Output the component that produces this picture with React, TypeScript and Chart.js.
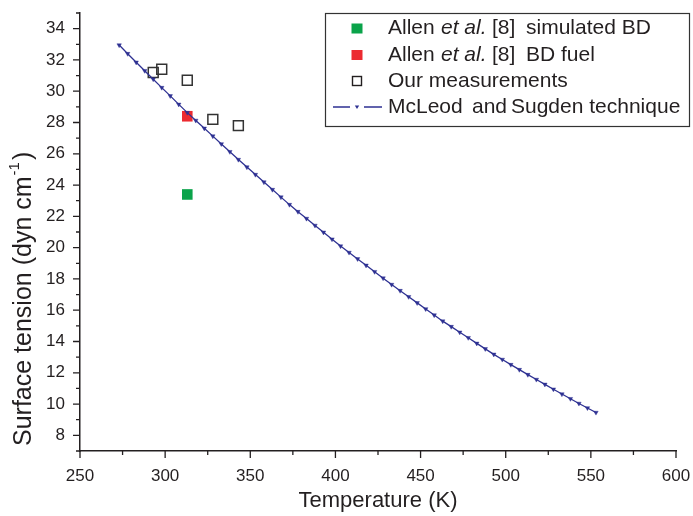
import { useEffect, useRef } from 'react';
import { Chart, registerables } from 'chart.js';

Chart.register(...registerables);

// Temperatures (K) and surface tension (dyn/cm) predicted by the McLeod–Sugden technique
const modelTemps = [
  273, 278, 283, 288, 293, 298, 303, 308, 313, 318, 323, 328, 333, 338, 343, 348, 353, 358, 363,
  368, 373, 378, 383, 388, 393, 398, 403, 408, 413, 418, 423, 428, 433, 438, 443, 448, 453, 458,
  463, 468, 473, 478, 483, 488, 493, 498, 503, 508, 513, 518, 523, 528, 533, 538, 543, 548, 553,
];
const modelTension = [
  32.95, 32.4, 31.85, 31.31, 30.77, 30.23, 29.7, 29.16, 28.63, 28.13, 27.63, 27.13, 26.63, 26.13,
  25.63, 25.15, 24.67, 24.19, 23.71, 23.23, 22.75, 22.3, 21.86, 21.42, 20.98, 20.54, 20.1, 19.69,
  19.28, 18.87, 18.46, 18.05, 17.64, 17.25, 16.86, 16.47, 16.08, 15.69, 15.3, 14.95, 14.59, 14.24,
  13.88, 13.53, 13.18, 12.85, 12.52, 12.2, 11.88, 11.57, 11.26, 10.95, 10.64, 10.34, 10.04, 9.75,
  9.46,
];

// Measured values
const ourTemps = [293, 298, 313, 328, 343];
const ourTension = [31.2, 31.4, 30.7, 28.2, 27.8];

// Allen et al. [8]
const allenFuelTemps = [313];
const allenFuelTension = [28.4];
const allenSimTemps = [313];
const allenSimTension = [23.4];

// Axis ranges and tick spacing
const xRange = [250, 600];
const xSteps = [25, 50]; // minor, labelled
const yRange = [7, 35];
const ySteps = [1, 2]; // minor, labelled

const FONT = '"Liberation Sans", Arial, Helvetica, sans-serif';
const INK = '#231f20';
const BLUE = '#2e3192';
const RED = '#ec2a30';
const GREEN = '#0aa34a';

const pts = (xs: number[], ys: number[]) => xs.map((x, i) => ({ x, y: ys[i] }));

// Outward tick marks: long on labelled values, short in between
const tickMarks = {
  id: 'tickMarks',
  afterDraw(chart: any) {
    const { ctx, chartArea, scales } = chart;
    const xs = scales.x;
    const ys = scales.y;
    ctx.save();
    ctx.strokeStyle = INK;
    ctx.lineWidth = 1.3;
    ctx.beginPath();
    xs.ticks.forEach((t: any) => {
      const px = xs.getPixelForValue(t.value);
      const len = t.value % xSteps[1] === 0 ? 7 : 4;
      ctx.moveTo(px, chartArea.bottom);
      ctx.lineTo(px, chartArea.bottom + len);
    });
    ys.ticks.forEach((t: any) => {
      const py = ys.getPixelForValue(t.value);
      const len = t.value % ySteps[1] === 0 ? 7 : 4;
      ctx.moveTo(chartArea.left, py);
      ctx.lineTo(chartArea.left - len, py);
    });
    ctx.stroke();
    ctx.restore();
  },
};

// Vertical axis title with a raised exponent
const yTitle = {
  id: 'yTitle',
  afterDraw(chart: any) {
    const { ctx, chartArea } = chart;
    ctx.save();
    ctx.translate(24, chartArea.bottom - 5);
    ctx.rotate(-Math.PI / 2);
    ctx.fillStyle = INK;
    ctx.textBaseline = 'middle';
    ctx.textAlign = 'left';
    ctx.font = `25px ${FONT}`;
    const main = 'Surface tension (dyn cm';
    ctx.fillText(main, 0, 0);
    let x = ctx.measureText(main).width + 1;
    ctx.font = `15px ${FONT}`;
    ctx.fillText('-1', x, -9);
    x += ctx.measureText('-1').width + 2;
    ctx.font = `25px ${FONT}`;
    ctx.fillText(')', x, 0);
    ctx.restore();
  },
};

type Part = [string, number, boolean];
type Row = { kind: 'fill' | 'open' | 'line'; color: string; parts: Part[] };

const legendRows: Row[] = [
  { kind: 'fill', color: GREEN, parts: [['Allen', 388, false], ['et al.', 441, true], ['[8]', 492, false], ['simulated BD', 526, false]] },
  { kind: 'fill', color: RED, parts: [['Allen', 388, false], ['et al.', 441, true], ['[8]', 492, false], ['BD fuel', 526, false]] },
  { kind: 'open', color: INK, parts: [['Our measurements', 388, false]] },
  { kind: 'line', color: BLUE, parts: [['McLeod', 388, false], ['and', 472, false], ['Sugden technique', 511, false]] },
];

const boxLegend = {
  id: 'boxLegend',
  afterDraw(chart: any) {
    const ctx = chart.ctx;
    ctx.save();
    ctx.fillStyle = '#ffffff';
    ctx.fillRect(325, 13, 365, 114);
    ctx.strokeStyle = '#333333';
    ctx.lineWidth = 1.2;
    ctx.strokeRect(325.5, 13.5, 364, 113);
    const rowY = [28.5, 55, 81, 107];
    const mx = 357;
    legendRows.forEach((row, i) => {
      const y = rowY[i];
      if (row.kind === 'fill') {
        ctx.fillStyle = row.color;
        ctx.fillRect(mx - 5.5, y - 5, 11, 10);
      } else if (row.kind === 'open') {
        ctx.strokeStyle = INK;
        ctx.lineWidth = 1.4;
        ctx.strokeRect(mx - 4.5, y - 4.5, 9, 9);
      } else {
        ctx.strokeStyle = row.color;
        ctx.lineWidth = 1.3;
        ctx.beginPath();
        ctx.moveTo(333, y);
        ctx.lineTo(350, y);
        ctx.moveTo(364, y);
        ctx.lineTo(382, y);
        ctx.stroke();
        ctx.fillStyle = row.color;
        ctx.beginPath();
        ctx.moveTo(mx - 2.2, y - 1.5);
        ctx.lineTo(mx + 2.2, y - 1.5);
        ctx.lineTo(mx, y + 2);
        ctx.closePath();
        ctx.fill();
      }
      ctx.fillStyle = INK;
      ctx.textBaseline = 'middle';
      ctx.textAlign = 'left';
      row.parts.forEach(([text, x, italic]) => {
        ctx.font = `${italic ? 'italic ' : ''}21px ${FONT}`;
        ctx.fillText(text, x, y);
      });
    });
    ctx.restore();
  },
};

// Fixed axis sizes; label overhang must not shrink the plot area
const fixSize = (w: number | null, h: number | null) => (s: any) => {
  if (w !== null) s.width = w;
  if (h !== null) s.height = h;
  s.paddingTop = 0;
  s.paddingBottom = 0;
  s.paddingLeft = 0;
  s.paddingRight = 0;
};

export default function App() {
  const ref = useRef<HTMLCanvasElement>(null);

  useEffect(() => {
    if (!ref.current) return;
    const chart = new Chart(ref.current, {
      type: 'scatter',
      data: {
        datasets: [
          {
            label: 'McLeod and Sugden technique',
            data: pts(modelTemps, modelTension),
            showLine: true,
            borderColor: BLUE,
            borderWidth: 1.3,
            pointStyle: 'triangle',
            rotation: 180,
            pointRadius: 2.6,
            pointBackgroundColor: BLUE,
            pointBorderColor: BLUE,
            pointBorderWidth: 0.4,
          },
          {
            label: 'Allen et al. [8] BD fuel',
            data: pts(allenFuelTemps, allenFuelTension),
            pointStyle: 'rect',
            pointRadius: 7.5,
            pointBackgroundColor: RED,
            pointBorderColor: RED,
            pointBorderWidth: 0,
          },
          {
            label: 'Allen et al. [8] simulated BD',
            data: pts(allenSimTemps, allenSimTension),
            pointStyle: 'rect',
            pointRadius: 7.5,
            pointBackgroundColor: GREEN,
            pointBorderColor: GREEN,
            pointBorderWidth: 0,
          },
          {
            label: 'Our measurements',
            data: pts(ourTemps, ourTension),
            pointStyle: 'rect',
            pointRadius: 7,
            pointBackgroundColor: 'rgba(0,0,0,0)',
            pointBorderColor: '#333333',
            pointBorderWidth: 1.5,
          },
        ],
      },
      options: {
        responsive: false,
        animation: false,
        layout: { padding: { top: 13, right: 17, bottom: 0, left: 0 } },
        plugins: { legend: { display: false }, tooltip: { enabled: false } },
        scales: {
          x: {
            type: 'linear',
            min: xRange[0],
            max: xRange[1],
            grid: { display: false, drawTicks: false },
            border: { display: true, color: INK, width: 1.5 },
            ticks: {
              stepSize: xSteps[0],
              autoSkip: false,
              maxRotation: 0,
              padding: 15,
              color: INK,
              font: { family: FONT, size: 17 },
              callback: (v: any) => (Number(v) % xSteps[1] === 0 ? String(v) : ''),
            },
            title: {
              display: true,
              text: 'Temperature (K)',
              color: INK,
              font: { family: FONT, size: 22 },
              padding: { top: 0, bottom: 2 },
            },
            afterFit: fixSize(null, 65),
          },
          y: {
            type: 'linear',
            min: yRange[0],
            max: yRange[1],
            grid: { display: false, drawTicks: false },
            border: { display: true, color: INK, width: 1.5 },
            ticks: {
              stepSize: ySteps[0],
              autoSkip: false,
              padding: 15,
              color: INK,
              font: { family: FONT, size: 17 },
              callback: (v: any) => (Number(v) % ySteps[1] === 0 ? String(v) : ''),
            },
            afterFit: fixSize(80, null),
          },
        },
      },
      plugins: [tickMarks, yTitle, boxLegend],
    });
    return () => chart.destroy();
  }, []);

  return (
    <div style={{ position: 'fixed', left: 0, top: 0, width: 693, height: 516, background: '#fff' }}>
      <canvas ref={ref} width={693} height={516} />
    </div>
  );
}
